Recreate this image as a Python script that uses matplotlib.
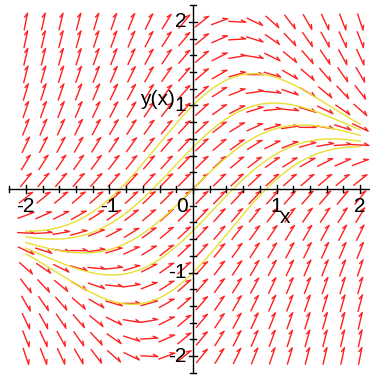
import numpy as np
import matplotlib
matplotlib.use("Agg")
import matplotlib.pyplot as plt
from matplotlib.collections import LineCollection

# direction field of y' = 1 - x*y, as in the Maple DEplot
x_grid = np.linspace(-2, 2, 20)
y_grid = np.linspace(-2, 2, 20)
y0_values = [-1.0, -0.5, 0.0, 0.5, 1.0]   # y(0) of the solution curves
x_ticks = [-2, -1, 0, 1, 2]
y_ticks = [-2, -1, 1, 2]
tick_labels_x = ["-2", "-1", "0", "1", "2"]
tick_labels_y = ["-2", "-1", "1", "2"]


def slope(x, y):
    return 1 - x * y


def solve(y0, x_end, n=400):
    h = x_end / n
    xs = [0.0]
    ys = [y0]
    x, y = 0.0, y0
    for _ in range(n):
        k1 = slope(x, y)
        k2 = slope(x + h / 2, y + h / 2 * k1)
        k3 = slope(x + h / 2, y + h / 2 * k2)
        k4 = slope(x + h, y + h * k3)
        y = y + h / 6 * (k1 + 2 * k2 + 2 * k3 + k4)
        x = x + h
        xs.append(x)
        ys.append(y)
    return np.array(xs), np.array(ys)


fig = plt.figure(figsize=(3.70, 3.75), dpi=100)
ax = fig.add_axes([0, 0, 1, 1])
ax.set_xlim(-193 / 83.6, 177 / 83.6)
ax.set_ylim((189 - 375) / 83.6, 189 / 83.6)
ax.axis("off")

# arrows (half heads, like Maple)
L = 0.21
head = 0.065
ang = np.radians(25)
segs = []
for xv in x_grid:
    for yv in y_grid:
        d = np.array([1.0, slope(xv, yv)])
        d = d / np.hypot(*d)
        tail = np.array([xv, yv]) - d * L / 2
        tip = np.array([xv, yv]) + d * L / 2
        back = -d
        c, s = np.cos(-ang), np.sin(-ang)
        barb = np.array([back[0] * c - back[1] * s, back[0] * s + back[1] * c])
        segs.append([tail, tip, tip + barb * head])
ax.add_collection(LineCollection(segs, colors="#ff2020", linewidths=1.0, zorder=2))

# solution curves
for y0 in y0_values:
    for x_end in (-2.0, 2.0):
        xs, ys = solve(y0, x_end)
        ax.plot(xs, ys, color="#e8e030", lw=1.0, zorder=3)

# axes
ax.plot([-2.2, 2.2], [0, 0], color="black", lw=1, zorder=4)
ax.plot([0, 0], [-2.2, 2.2], color="black", lw=1, zorder=4)
for t in np.round(np.arange(-2.2, 2.21, 0.2), 2):
    half = 0.05 if abs(t - round(t)) < 1e-6 else 0.032
    ax.plot([t, t], [-half, half], color="black", lw=1, zorder=4)
    ax.plot([-half, half], [t, t], color="black", lw=1, zorder=4)

fnt = dict(family="Liberation Sans", fontsize=15, color="black")
for t, lab in zip(x_ticks, tick_labels_x):
    xpos = -0.13 if t == 0 else t
    ax.text(xpos, -0.1, lab, ha="center", va="top", **fnt)
for t, lab in zip(y_ticks, tick_labels_y):
    ax.text(-0.08, t, lab, ha="right", va="center", **fnt)

ax.text(1.105, -0.41, "x", ha="center", va="baseline", **fnt)
ax.text(-0.42, 1.07, "y(x)", ha="center", va="center", **fnt)

fig.savefig("out.png", dpi=100)
